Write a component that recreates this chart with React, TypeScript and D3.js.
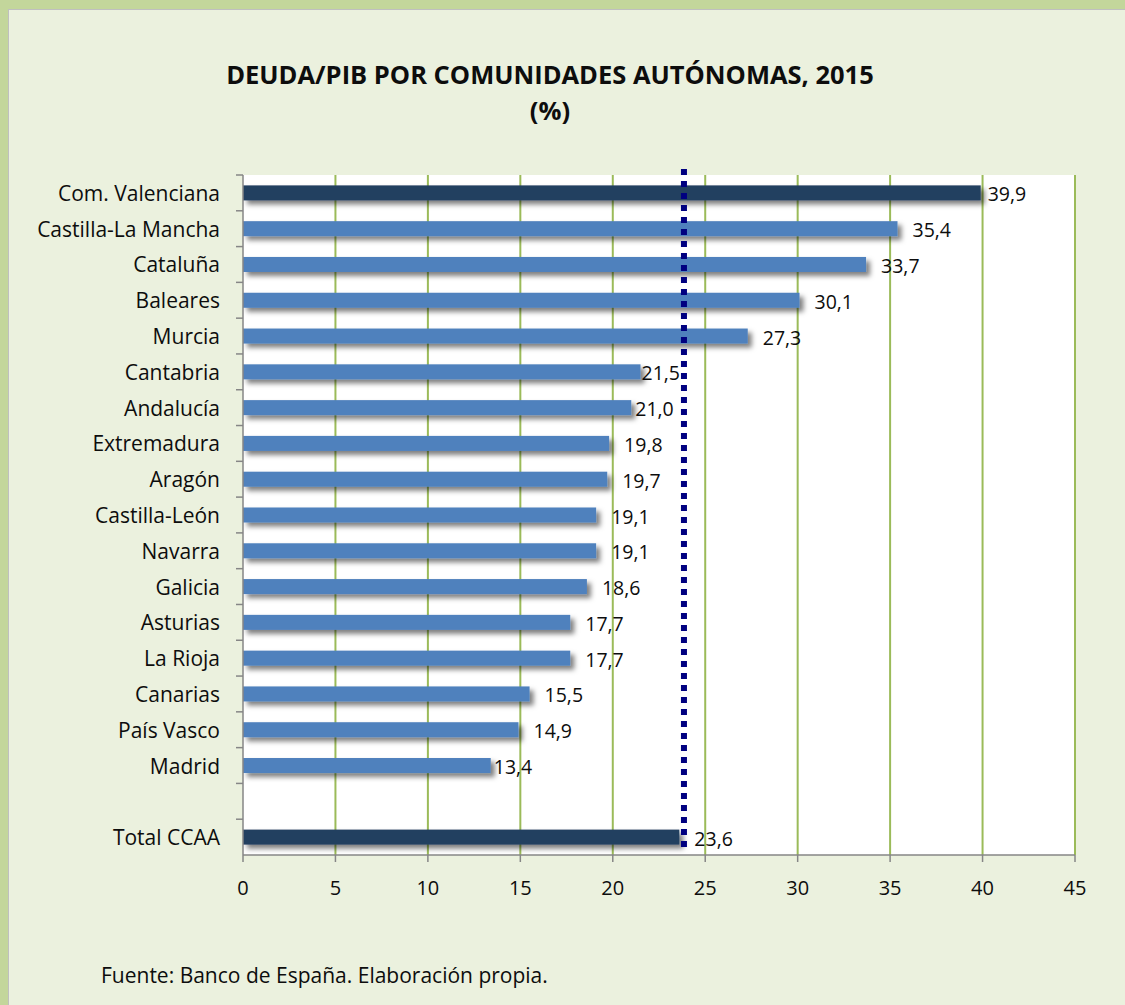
import React from "react";
import { scaleLinear, scaleBand } from "d3";

// values (deuda/PIB %, 2015)
const regions = [
  "Com. Valenciana",
  "Castilla-La Mancha",
  "Cataluña",
  "Baleares",
  "Murcia",
  "Cantabria",
  "Andalucía ",
  "Extremadura",
  "Aragón",
  "Castilla-León",
  "Navarra",
  "Galicia",
  "Asturias",
  "La Rioja",
  "Canarias",
  "País Vasco",
  "Madrid",
  "",
  "Total CCAA",
];
const debtRatio = [39.9, 35.4, 33.7, 30.1, 27.3, 21.5, 21.0, 19.8, 19.7, 19.1, 19.1, 18.6, 17.7, 17.7, 15.5, 14.9, 13.4, null, 23.6];
const highlighted = ["Com. Valenciana", "Total CCAA"];
const xTicks = [0, 5, 10, 15, 20, 25, 30, 35, 40, 45];
const averageLine = 23.85;

const title = "DEUDA/PIB POR COMUNIDADES AUTÓNOMAS, 2015";
const subtitle = "(%)";
const source = "Fuente: Banco de España. Elaboración propia.";

const W = 1125;
const H = 1005;
const FONT = "'Open Sans', sans-serif";
const TEXT = "#0d0d0d";

// hand-placed label offsets in the original
const labelShift: Record<string, number> = {
  "Com. Valenciana": 7,
  Cantabria: 1,
  "Andalucía ": 4,
  Madrid: 3,
};

export default function App() {
  const margin = { left: 243, right: 1075, top: 175, bottom: 855 };

  const x = scaleLinear().domain([0, 45]).range([margin.left, margin.right]);
  const keys = regions.map((d, i) => d || `blank${i}`);
  const y = scaleBand<string>()
    .domain(keys)
    .range([margin.top, margin.bottom])
    .paddingInner(0.58)
    .paddingOuter(0.29);
  const step = y.step();

  return (
    <svg width={W} height={H} style={{ position: "absolute", left: 0, top: 0 }} fontFamily={FONT}>
      <defs>
        <filter id="barShadow" x="-5%" y="-50%" width="115%" height="250%">
          <feDropShadow dx="4" dy="4" stdDeviation="2.8" floodColor="#000" floodOpacity="0.5" />
        </filter>
      </defs>

      {/* frame */}
      <rect x={0} y={0} width={W} height={H} fill="#c3d69b" />
      <rect x={8.5} y={9.5} width={W} height={H} fill="#ebf1de" stroke="#bfbfbf" strokeWidth={1} />

      <text x={550} y={84} textAnchor="middle" fontWeight="bold" fontSize={25.5} fill={TEXT}>
        {title}
      </text>
      <text x={550} y={120} textAnchor="middle" fontWeight="bold" fontSize={25.5} fill={TEXT}>
        {subtitle}
      </text>

      {/* plot area */}
      <rect x={margin.left} y={margin.top} width={margin.right - margin.left} height={margin.bottom - margin.top} fill="#fff" />

      {xTicks.slice(1).map((t) => (
        <line key={t} x1={x(t)} x2={x(t)} y1={margin.top} y2={margin.bottom} stroke="#9bbb59" strokeWidth={2} />
      ))}

      {/* bars */}
      {keys.map((k, i) => {
        const v = debtRatio[i];
        if (v == null) return null;
        const dark = highlighted.includes(regions[i]);
        return (
          <rect
            key={k}
            x={x(0)}
            y={y(k)}
            width={x(v) - x(0)}
            height={y.bandwidth()}
            fill={dark ? "#243f60" : "#4f81bd"}
            filter="url(#barShadow)"
          />
        );
      })}

      {/* axes */}
      <line x1={margin.left} x2={margin.left} y1={margin.top} y2={margin.bottom} stroke="#868686" strokeWidth={1.5} />
      <line x1={margin.left} x2={margin.right} y1={margin.bottom} y2={margin.bottom} stroke="#868686" strokeWidth={1.5} />
      {keys.map((k, i) => (
        <line key={k} x1={margin.left - 7} x2={margin.left} y1={margin.top + i * step} y2={margin.top + i * step} stroke="#868686" strokeWidth={1.5} />
      ))}
      {xTicks.map((t) => (
        <g key={t}>
          <line x1={x(t)} x2={x(t)} y1={margin.bottom} y2={margin.bottom + 7} stroke="#868686" strokeWidth={1.5} />
          <text x={x(t)} y={887} textAnchor="middle" dominantBaseline="central" fontSize={20} fill={TEXT}>
            {t}
          </text>
        </g>
      ))}

      {/* category labels */}
      {keys.map((k, i) => (
        <text key={k} x={220} y={(y(k) ?? 0) + y.bandwidth() / 2} textAnchor="end" dominantBaseline="central" fontSize={21} fill={TEXT}>
          {regions[i]}
        </text>
      ))}

      {/* average line */}
      <line
        x1={x(averageLine)}
        x2={x(averageLine)}
        y1={169}
        y2={margin.bottom - 4}
        stroke="#000080"
        strokeWidth={6}
        strokeDasharray="6 6"
      />

      {/* value labels */}
      {keys.map((k, i) => {
        const v = debtRatio[i];
        if (v == null) return null;
        const shift = labelShift[regions[i]] ?? 15;
        return (
          <text key={k} x={x(v) + shift} y={(y(k) ?? 0) + y.bandwidth() / 2 + 1} dominantBaseline="central" fontSize={19.5} fill={TEXT}>
            {v.toFixed(1).replace(".", ",")}
          </text>
        );
      })}

      <text x={101} y={975} dominantBaseline="central" fontSize={21} fill={TEXT}>
        {source}
      </text>
    </svg>
  );
}
